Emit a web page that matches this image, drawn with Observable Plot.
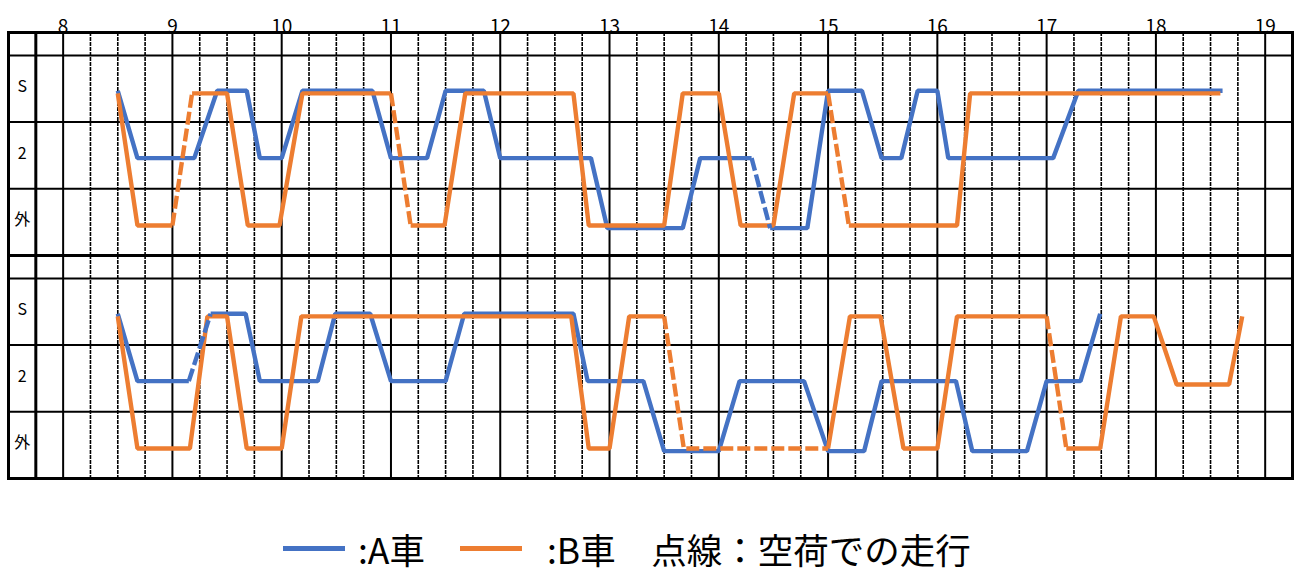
<!DOCTYPE html>
<html>
<head>
<meta charset="utf-8">
<script src="https://cdn.jsdelivr.net/npm/d3@7"></script>
<script src="https://cdn.jsdelivr.net/npm/@observablehq/plot@0.6"></script>
<style>
  body { margin: 0; background: #fff; font-family: "Noto Sans CJK JP", "Noto Sans", sans-serif; }
  #wrap { position: relative; width: 1297px; height: 572px; }
  #legend { position: absolute; left: 283px; top: 528px; height: 40px; display: flex; align-items: center;
            font-size: 35.5px; white-space: nowrap; color: #000; }
  .sw { display: inline-block; width: 62px; height: 5px; }
</style>
</head>
<body>
<div id="wrap">
  <div id="chart"></div>
  <div id="legend">
    <span class="sw" style="background:#4472C4"></span>
    <span style="margin-left:13px">:A車</span>
    <span class="sw" style="background:#ED7D31;margin-left:35px"></span>
    <span style="margin-left:25px">:B車　点線：空荷での走行</span>
  </div>
</div>
<script>
// ---- data ----
const hours = [8, 9, 10, 11, 12, 13, 14, 15, 16, 17, 18, 19];
const levels = ["S", "2", "外"];
const panels = ["upper", "lower"];

// upper panel, A car (blue)
const upperATimes = [8.5, 8.68, 9.2, 9.41, 9.68, 9.8, 10.0, 10.19, 10.83, 11.0, 11.33, 11.5, 11.85, 12.0, 12.83, 12.98, 13.67, 13.83, 14.3, 14.47, 14.81, 15.0, 15.31, 15.49, 15.67, 15.82, 16.0, 16.1, 17.06, 17.29, 18.61];
const upperALevels = ["S","2","2","S","S","2","2","S","S","2","2","S","S","2","2","外","外","2","2","外","外","S","S","2","2","S","S","2","2","S","S"];
const upperAEmptyFrom = [14.3];

// upper panel, B car (orange)
const upperBTimes = [8.5, 8.68, 9.0, 9.18, 9.5, 9.69, 9.98, 10.19, 11.0, 11.18, 11.49, 11.68, 12.67, 12.81, 13.5, 13.67, 14.0, 14.2, 14.5, 14.69, 15.0, 15.19, 16.18, 16.3, 18.59];
const upperBLevels = ["S","外","外","S","S","外","外","S","S","外","外","S","S","外","外","S","S","外","外","S","S","外","外","S","S"];
const upperBEmptyFrom = [9.0, 11.0, 15.0];

// lower panel, A car (blue)
const lowerATimes = [8.5, 8.68, 9.15, 9.35, 9.67, 9.8, 10.33, 10.49, 10.81, 11.0, 11.5, 11.67, 12.67, 12.8, 13.31, 13.5, 14.0, 14.19, 14.78, 15.0, 15.33, 15.49, 16.17, 16.32, 16.82, 17.0, 17.31, 17.49];
const lowerALevels = ["S","2","2","S","S","2","2","S","S","2","2","S","S","2","2","外","外","2","2","外","外","2","2","外","外","2","2","S"];
const lowerAEmptyFrom = [9.15];

// lower panel, B car (orange)
const lowerBTimes = [8.5, 8.68, 9.16, 9.32, 9.5, 9.68, 10.0, 10.18, 12.65, 12.81, 13.0, 13.18, 13.5, 13.68, 15.0, 15.2, 15.48, 15.69, 16.0, 16.18, 17.0, 17.18, 17.49, 17.68, 17.98, 18.19, 18.67, 18.79];
const lowerBLevels = ["S","外","外","S","S","外","外","S","S","外","外","S","S","外","外","S","S","外","外","S","S","外","外","S","S","2","2","S"];
const lowerBEmptyFrom = [13.5, 13.68, 17.0];

// ---- layout helpers (not data) ----
const colors = { A: "#4472C4", B: "#ED7D31" };
const rowCenter = { "S": 0.5, "2": 1.5, "外": 2.5 };
const nudge = { A: { "S": 0.03, "2": 0.04, "外": 0.09 }, B: { "S": 0.07, "2": 0.09, "外": 0.05 } };
const xStart = 7.5, labelEdge = 7.75, xEnd = 19.25;
const quarters = [];
for (const h of hours.slice(0, -1)) for (const q of [0.25, 0.5, 0.75]) quarters.push(h + q);

function buildRuns(panel, car, times, lvls, emptyFrom) {
  const rows = [];
  let cur = null, n = 0;
  const pt = (i, run, dashed) => ({ t: times[i], y: rowCenter[lvls[i]] + nudge[car][lvls[i]], panel, car, run, dashed });
  for (let i = 0; i < times.length - 1; i++) {
    const dashed = emptyFrom.includes(times[i]);
    if (!cur || cur.dashed !== dashed) {
      n++;
      cur = { dashed, id: `${panel}-${car}-${n}` };
      rows.push(pt(i, cur.id, dashed));
    }
    rows.push(pt(i + 1, cur.id, dashed));
  }
  return rows;
}

const rowsA = [
  ...buildRuns("upper", "A", upperATimes, upperALevels, upperAEmptyFrom),
  ...buildRuns("lower", "A", lowerATimes, lowerALevels, lowerAEmptyFrom)
];
const rowsB = [
  ...buildRuns("upper", "B", upperBTimes, upperBLevels, upperBEmptyFrom),
  ...buildRuns("lower", "B", lowerBTimes, lowerBLevels, lowerBEmptyFrom)
];

const lineOpts = (car, dashed) => ({
  x: "t", y: "y", fy: "panel", z: "run",
  stroke: colors[car], strokeWidth: 4.4,
  strokeLinejoin: "miter", strokeLinecap: "butt",
  ...(dashed ? { strokeDasharray: "13,4" } : {})
});

const chart = Plot.plot({
  width: 1297,
  height: 496,
  marginLeft: 8,
  marginRight: 5,
  marginTop: 32,
  marginBottom: 18,
  x: { domain: [xStart, xEnd], axis: null },
  y: { domain: [3, -23 / 67], axis: null },
  fy: { domain: panels, padding: 0, axis: null },
  style: { fontFamily: '"Noto Sans CJK JP", "Noto Sans", sans-serif', color: "#000", background: "#fff" },
  marks: [
    Plot.ruleX(quarters, { stroke: "#000", strokeWidth: 1.6, strokeDasharray: "4,1" }),
    Plot.ruleX(hours, { stroke: "#000", strokeWidth: 2 }),
    Plot.ruleX([labelEdge], { stroke: "#000", strokeWidth: 3 }),
    Plot.ruleY([0, 1, 2], { stroke: "#000", strokeWidth: 2 }),
    Plot.frame({ stroke: "#000", strokeWidth: 3 }),
    Plot.text(levels, {
      x: () => (xStart + labelEdge) / 2,
      y: (d) => rowCenter[d] - 0.03,
      text: (d) => d,
      fontSize: 16,
      fill: "#000"
    }),
    Plot.line(rowsA.filter((d) => !d.dashed), lineOpts("A", false)),
    Plot.line(rowsB.filter((d) => !d.dashed), lineOpts("B", false)),
    Plot.line(rowsA.filter((d) => d.dashed), lineOpts("A", true)),
    Plot.line(rowsB.filter((d) => d.dashed), lineOpts("B", true)),
    Plot.text(hours, {
      x: (d) => d,
      fy: () => "upper",
      frameAnchor: "top",
      dy: -13,
      text: (d) => String(d),
      fontSize: 19,
      fill: "#000"
    })
  ]
});
document.getElementById("chart").appendChild(chart);
</script>
</body>
</html>
